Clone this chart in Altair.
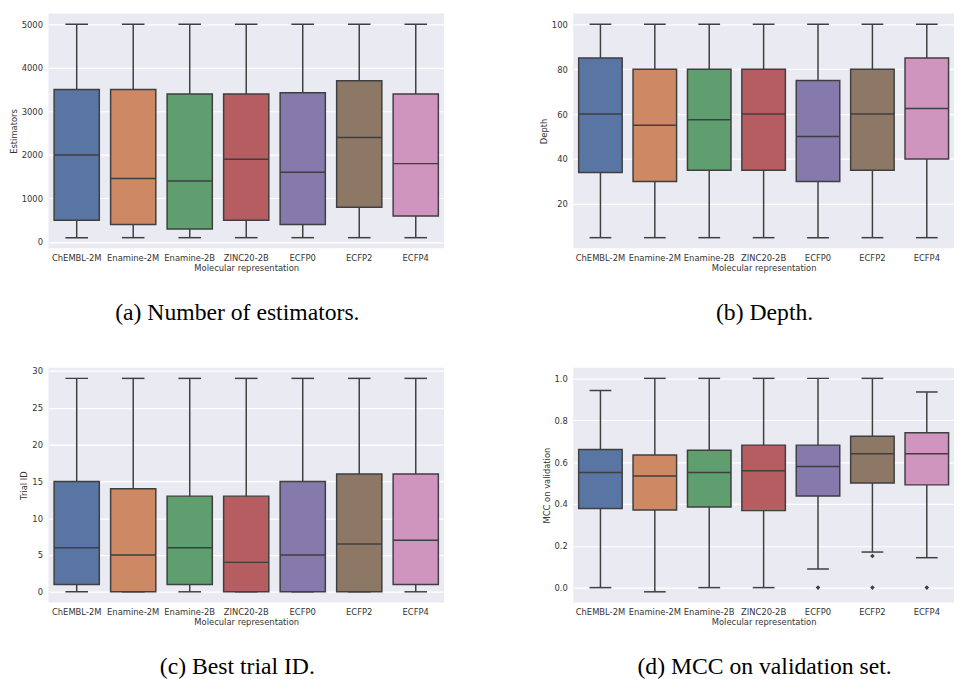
import altair as alt
import pandas as pd

categories = ["ChEMBL-2M", "Enamine-2M", "Enamine-2B", "ZINC20-2B", "ECFP0", "ECFP2", "ECFP4"]
colors = ["#5975A4", "#CC8963", "#5F9E6E", "#B55D60", "#857AAB", "#8D7866", "#D095BF"]

# (a) Number of estimators
est_lo = [100, 100, 100, 100, 100, 100, 100]
est_q1 = [500, 400, 300, 500, 400, 800, 600]
est_med = [2000, 1460, 1400, 1900, 1600, 2400, 1800]
est_q3 = [3500, 3500, 3400, 3400, 3425, 3700, 3400]
est_hi = [5000, 5000, 5000, 5000, 5000, 5000, 5000]

# (b) Depth
dep_lo = [5, 5, 5, 5, 5, 5, 5]
dep_q1 = [34, 30, 35, 35, 30, 35, 40]
dep_med = [60, 55, 57.5, 60, 50, 60, 62.5]
dep_q3 = [85, 80, 80, 80, 75, 80, 85]
dep_hi = [100, 100, 100, 100, 100, 100, 100]

# (c) Best trial ID
tri_lo = [0, 0, 0, 0, 0, 0, 0]
tri_q1 = [1, 0, 1, 0, 0, 0, 1]
tri_med = [6, 5, 6, 4, 5, 6.5, 7]
tri_q3 = [15, 14, 13, 13, 15, 16, 16]
tri_hi = [29, 29, 29, 29, 29, 29, 29]

# (d) MCC on validation
mcc_lo = [0.0, -0.02, 0.0, 0.0, 0.089, 0.170, 0.143]
mcc_q1 = [0.378, 0.371, 0.385, 0.368, 0.438, 0.500, 0.491]
mcc_med = [0.550, 0.533, 0.550, 0.559, 0.579, 0.640, 0.640]
mcc_q3 = [0.660, 0.634, 0.656, 0.681, 0.681, 0.723, 0.740]
mcc_hi = [0.942, 1.0, 1.0, 1.0, 1.0, 1.0, 0.935]
mcc_out_cat = ["ECFP0", "ECFP2", "ECFP2", "ECFP4"]
mcc_out_val = [0.0, 0.151, 0.0, 0.0]

LINE = "#3F3F3F"
LABEL_FONT = "DejaVu Sans"


def make_df(lo, q1, med, q3, hi):
    return pd.DataFrame({"cat": categories, "lo": lo, "q1": q1, "med": med, "q3": q3, "hi": hi})


def panel(df, ytitle, domain, ticks, fmt, w, h, caption, cap_dx, out_df=None):
    xenc = alt.X("cat:N", sort=categories, title="Molecular representation",
                 scale=alt.Scale(domain=categories, paddingInner=0, paddingOuter=0),
                 axis=alt.Axis(labelAngle=0, labelPadding=5, titlePadding=2))
    yscale = alt.Scale(domain=domain, nice=False, zero=False)
    yaxis = alt.Axis(values=ticks, format=fmt, labelPadding=6, titlePadding=3)

    def Y(field):
        return alt.Y(field, type="quantitative", scale=yscale, axis=yaxis, title=ytitle)

    base = alt.Chart(df).encode(x=xenc)
    whisk = base.mark_rule(color=LINE, strokeWidth=1.5).encode(y=Y("lo"), y2="hi")
    cap_lo = base.mark_tick(color=LINE, thickness=1.5, size=w / 7 * 0.4, opacity=1).encode(y=Y("lo"))
    cap_hi = base.mark_tick(color=LINE, thickness=1.5, size=w / 7 * 0.4, opacity=1).encode(y=Y("hi"))
    box = base.mark_bar(stroke=LINE, strokeWidth=1.5, width=alt.RelativeBandSize(0.8), opacity=1).encode(
        y=Y("q1"), y2="q3",
        color=alt.Color("cat:N", scale=alt.Scale(domain=categories, range=colors), legend=None))
    med = base.mark_tick(color=LINE, thickness=1.5, size=w / 7 * 0.8, opacity=1).encode(y=Y("med"))
    layers = [whisk, cap_lo, cap_hi, box, med]
    if out_df is not None:
        pts = alt.Chart(out_df).mark_point(shape="diamond", filled=True, color=LINE, size=22, opacity=1).encode(
            x=xenc, y=Y("val"))
        layers.append(pts)
    return alt.layer(*layers).properties(
        width=w, height=h,
        title=alt.TitleParams(caption, orient="bottom", anchor="middle", frame="group",
                              font="Liberation Serif", fontSize=24, fontWeight="normal",
                              color="black", offset=30, dx=cap_dx))


W_L = 401
W_R = 386
H = 238

pa = panel(make_df(est_lo, est_q1, est_med, est_q3, est_hi), "Estimators", [-145, 5245],
           [0, 1000, 2000, 3000, 4000, 5000], "d", W_L, H, "(a) Number of estimators.", -9)
pb = panel(make_df(dep_lo, dep_q1, dep_med, dep_q3, dep_hi), "Depth", [0.25, 104.75],
           [20, 40, 60, 80, 100], "d", W_R, H, "(b) Depth.", 1)
pc = panel(make_df(tri_lo, tri_q1, tri_med, tri_q3, tri_hi), "Trial ID", [-1.45, 30.45],
           [0, 5, 10, 15, 20, 25, 30], "d", W_L, H, "(c) Best trial ID.", -9)
pd_ = panel(make_df(mcc_lo, mcc_q1, mcc_med, mcc_q3, mcc_hi), "MCC on validation", [-0.071, 1.051],
            [0.0, 0.2, 0.4, 0.6, 0.8, 1.0], ".1f", W_R, H, "(d) MCC on validation set.", 1,
            out_df=pd.DataFrame({"cat": mcc_out_cat, "val": mcc_out_val}))

chart = alt.concat(pa, pb, pc, pd_, columns=2, spacing={"row": 42, "column": 96}).properties(
    padding={"left": 1, "top": 1, "right": 0, "bottom": 0},
    background="white",
).configure_view(fill="#EAEAF2", stroke=None).configure_axis(
    grid=True, gridColor="white", gridWidth=1.2, domain=False, ticks=False,
    labelFont=LABEL_FONT, labelFontSize=8.5, labelColor="#333333",
    titleFont=LABEL_FONT, titleFontSize=8.5, titleColor="#333333", titleFontWeight="normal",
).configure_axisX(grid=False)

chart.save("out.html", embed_options={"renderer": "svg", "actions": False})
